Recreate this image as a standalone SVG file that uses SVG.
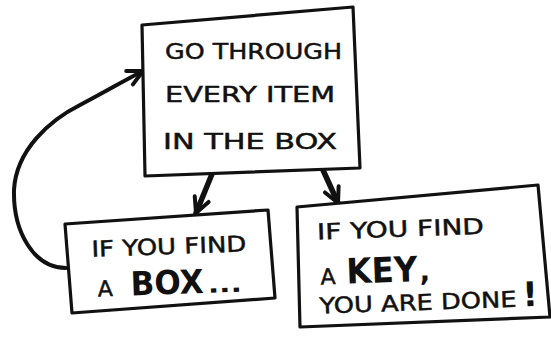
<svg xmlns="http://www.w3.org/2000/svg" width="551" height="337" viewBox="0 0 551 337">
<style>
.box{fill:#fff;stroke:#111;stroke-width:3.2;stroke-linejoin:round}
.t{font-family:"DejaVu Sans","Liberation Sans",sans-serif;fill:#111;stroke:#111;stroke-width:0.5;font-size:22px}
.b{font-family:"DejaVu Sans","Liberation Sans",sans-serif;fill:#111;font-weight:bold}
.conn{fill:none;stroke:#111;stroke-linecap:round}
</style>
<defs>
<marker id="ah" markerUnits="userSpaceOnUse" markerWidth="20" markerHeight="20" viewBox="0 0 20 20" refX="18" refY="10" orient="auto">
<path d="M3,2.5 L18,10 L3,17.5" fill="none" stroke="#111" stroke-width="4" stroke-linecap="round" stroke-linejoin="round"/>
</marker>
</defs>
<rect width="551" height="337" fill="#fff"/>
<g id="connectors">
<path class="conn" stroke-width="5.5" d="M212,174 L196,213" marker-end="url(#ah)"/>
<path class="conn" stroke-width="5.5" d="M323,170 L338,203" marker-end="url(#ah)"/>
<path class="conn" stroke-width="4" d="M66,268 C34,268 13,232 14,190 C16,150 50,120 80,105 C105,92 125,80 143,71" marker-end="url(#ah)"/>
</g>
<g id="node-top">
<path class="box" d="M142,25 L353,7 L360,168 L145,176 Z"/>
<text class="t" x="165" y="59" textLength="177" lengthAdjust="spacingAndGlyphs">GO THROUGH</text>
<text class="t" x="165" y="102" textLength="170" lengthAdjust="spacingAndGlyphs">EVERY ITEM</text>
<text class="t" x="163" y="149" textLength="174" lengthAdjust="spacingAndGlyphs">IN THE BOX</text>
</g>
<g id="node-box">
<path class="box" d="M65,224 L268,210 L275,298 L72,313 Z"/>
<g transform="rotate(-2 170 265)">
<text class="t" x="92" y="254" textLength="155" lengthAdjust="spacingAndGlyphs">IF YOU FIND</text>
<text class="t" x="97" y="294">A</text>
<text class="b" x="130" y="294" font-size="33" textLength="73" lengthAdjust="spacingAndGlyphs">BOX</text>
<text class="b" x="207" y="294" font-size="22" textLength="34" lengthAdjust="spacingAndGlyphs">...</text>
</g>
</g>
<g id="node-key">
<path class="box" d="M297,207 L538,185 L550,317 L300,327 Z"/>
<g transform="rotate(-2 420 260)">
<text class="t" x="318" y="236" textLength="167" lengthAdjust="spacingAndGlyphs">IF YOU FIND</text>
<text class="t" x="320" y="281">A</text>
<text class="b" x="346" y="281" font-size="35" textLength="71" lengthAdjust="spacingAndGlyphs">KEY</text>
<text class="b" x="419" y="281" font-size="28">,</text>
<text class="t" x="318" y="310" textLength="197" lengthAdjust="spacingAndGlyphs">YOU ARE DONE</text>
<text class="b" x="521" y="310" font-size="34">!</text>
</g>
</g>
</svg>
